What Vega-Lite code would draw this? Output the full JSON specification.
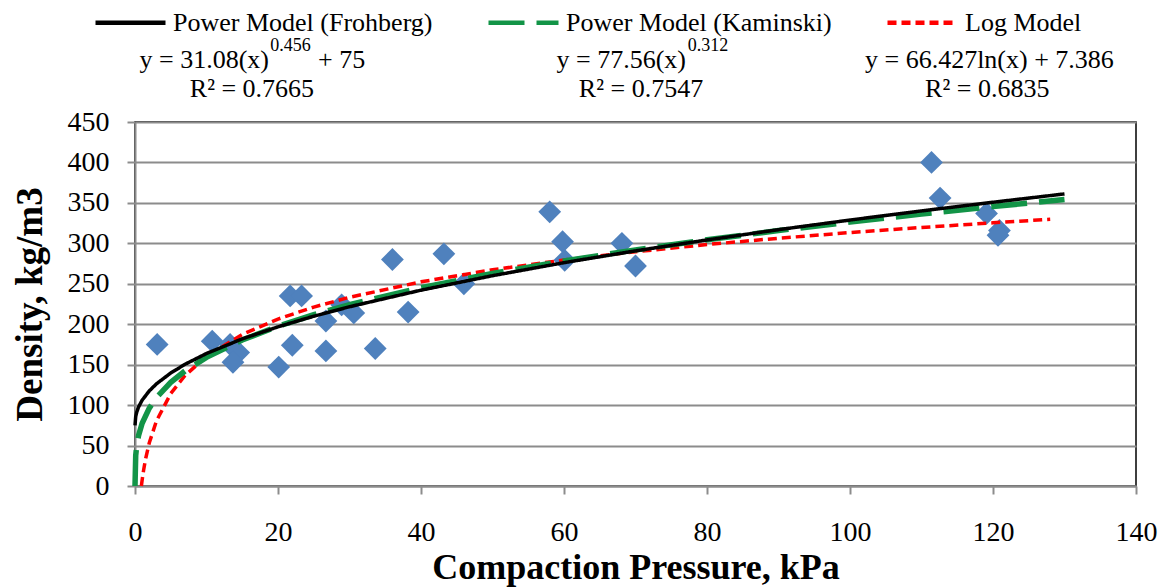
{
  "$schema": "https://vega.github.io/schema/vega-lite/v6.json",
  "autosize": {"type": "none"},
  "width": 1001,
  "height": 364,
  "padding": {"left": 135, "top": 122, "right": 34, "bottom": 101},
  "background": "white",
  "config": {
    "view": {"stroke": "#000000", "strokeWidth": 1.5},
    "font": "Liberation Serif"
  },
  "datasets": {
    "pts": [
      {"x": 3.1, "y": 175}, {"x": 10.8, "y": 179}, {"x": 13.3, "y": 175}, {"x": 14.5, "y": 165},
      {"x": 13.7, "y": 153}, {"x": 20.1, "y": 147}, {"x": 21.7, "y": 235}, {"x": 22.0, "y": 174},
      {"x": 23.3, "y": 235}, {"x": 26.7, "y": 204}, {"x": 26.7, "y": 167}, {"x": 28.9, "y": 224},
      {"x": 30.6, "y": 214}, {"x": 33.6, "y": 170}, {"x": 36.0, "y": 280}, {"x": 38.2, "y": 215},
      {"x": 43.2, "y": 287}, {"x": 46.0, "y": 250}, {"x": 58.0, "y": 339}, {"x": 59.8, "y": 302},
      {"x": 60.1, "y": 279}, {"x": 68.1, "y": 300}, {"x": 70.0, "y": 272}, {"x": 111.4, "y": 400},
      {"x": 112.6, "y": 356}, {"x": 119.1, "y": 337}, {"x": 120.9, "y": 316}, {"x": 120.7, "y": 310}
    ],
    "curves": [
      {"model": "Power Model (Frohberg)", "x": 0, "y": 75},
      {"model": "Power Model (Frohberg)", "x": 0.1, "y": 85.9},
      {"model": "Power Model (Frohberg)", "x": 0.25, "y": 91.5},
      {"model": "Power Model (Frohberg)", "x": 0.5, "y": 97.7},
      {"model": "Power Model (Frohberg)", "x": 1, "y": 106.1},
      {"model": "Power Model (Frohberg)", "x": 2, "y": 117.6},
      {"model": "Power Model (Frohberg)", "x": 3, "y": 126.3},
      {"model": "Power Model (Frohberg)", "x": 5, "y": 139.7},
      {"model": "Power Model (Frohberg)", "x": 7, "y": 150.5},
      {"model": "Power Model (Frohberg)", "x": 10, "y": 163.8},
      {"model": "Power Model (Frohberg)", "x": 15, "y": 181.9},
      {"model": "Power Model (Frohberg)", "x": 20, "y": 196.8},
      {"model": "Power Model (Frohberg)", "x": 25, "y": 209.9},
      {"model": "Power Model (Frohberg)", "x": 30, "y": 221.6},
      {"model": "Power Model (Frohberg)", "x": 40, "y": 242.1},
      {"model": "Power Model (Frohberg)", "x": 50, "y": 260.0},
      {"model": "Power Model (Frohberg)", "x": 60, "y": 276.1},
      {"model": "Power Model (Frohberg)", "x": 70, "y": 290.7},
      {"model": "Power Model (Frohberg)", "x": 80, "y": 304.2},
      {"model": "Power Model (Frohberg)", "x": 90, "y": 316.9},
      {"model": "Power Model (Frohberg)", "x": 100, "y": 328.8},
      {"model": "Power Model (Frohberg)", "x": 110, "y": 340.1},
      {"model": "Power Model (Frohberg)", "x": 120, "y": 350.8},
      {"model": "Power Model (Frohberg)", "x": 130, "y": 361.1},
      {"model": "Power Model (Kaminski)", "x": 0, "y": 0},
      {"model": "Power Model (Kaminski)", "x": 0.1, "y": 37.8},
      {"model": "Power Model (Kaminski)", "x": 0.25, "y": 50.3},
      {"model": "Power Model (Kaminski)", "x": 0.5, "y": 62.5},
      {"model": "Power Model (Kaminski)", "x": 1, "y": 77.6},
      {"model": "Power Model (Kaminski)", "x": 2, "y": 96.3},
      {"model": "Power Model (Kaminski)", "x": 3, "y": 109.3},
      {"model": "Power Model (Kaminski)", "x": 5, "y": 128.1},
      {"model": "Power Model (Kaminski)", "x": 7, "y": 142.3},
      {"model": "Power Model (Kaminski)", "x": 10, "y": 159.1},
      {"model": "Power Model (Kaminski)", "x": 15, "y": 180.5},
      {"model": "Power Model (Kaminski)", "x": 20, "y": 197.5},
      {"model": "Power Model (Kaminski)", "x": 25, "y": 211.7},
      {"model": "Power Model (Kaminski)", "x": 30, "y": 224.1},
      {"model": "Power Model (Kaminski)", "x": 40, "y": 245.2},
      {"model": "Power Model (Kaminski)", "x": 50, "y": 262.8},
      {"model": "Power Model (Kaminski)", "x": 60, "y": 278.2},
      {"model": "Power Model (Kaminski)", "x": 70, "y": 291.9},
      {"model": "Power Model (Kaminski)", "x": 80, "y": 304.4},
      {"model": "Power Model (Kaminski)", "x": 90, "y": 315.8},
      {"model": "Power Model (Kaminski)", "x": 100, "y": 326.3},
      {"model": "Power Model (Kaminski)", "x": 110, "y": 336.2},
      {"model": "Power Model (Kaminski)", "x": 120, "y": 345.4},
      {"model": "Power Model (Kaminski)", "x": 130, "y": 354.2},
      {"model": "Log Model", "x": 0.895, "y": 0},
      {"model": "Log Model", "x": 0.95, "y": 4.0},
      {"model": "Log Model", "x": 1, "y": 7.4},
      {"model": "Log Model", "x": 1.2, "y": 19.5},
      {"model": "Log Model", "x": 1.5, "y": 34.3},
      {"model": "Log Model", "x": 2, "y": 53.4},
      {"model": "Log Model", "x": 3, "y": 80.4},
      {"model": "Log Model", "x": 5, "y": 114.3},
      {"model": "Log Model", "x": 7, "y": 136.6},
      {"model": "Log Model", "x": 10, "y": 160.3},
      {"model": "Log Model", "x": 15, "y": 187.3},
      {"model": "Log Model", "x": 20, "y": 206.4},
      {"model": "Log Model", "x": 25, "y": 221.2},
      {"model": "Log Model", "x": 30, "y": 233.3},
      {"model": "Log Model", "x": 40, "y": 252.4},
      {"model": "Log Model", "x": 50, "y": 267.3},
      {"model": "Log Model", "x": 60, "y": 279.4},
      {"model": "Log Model", "x": 70, "y": 289.6},
      {"model": "Log Model", "x": 80, "y": 298.5},
      {"model": "Log Model", "x": 90, "y": 306.3},
      {"model": "Log Model", "x": 100, "y": 313.3},
      {"model": "Log Model", "x": 110, "y": 319.6},
      {"model": "Log Model", "x": 120, "y": 325.4},
      {"model": "Log Model", "x": 128, "y": 329.7}
    ],
    "eq": [
      {"part": "right", "x": 18.74, "y": 516.7, "text": "y = 31.08(x)"},
      {"part": "sup", "x": 18.9, "y": 537.8, "text": "0.456"},
      {"part": "left", "x": 25.6, "y": 516.7, "text": "+ 75"},
      {"part": "center", "x": 16.36, "y": 481.0, "text": "R² = 0.7665"},
      {"part": "right", "x": 77.06, "y": 516.7, "text": "y = 77.56(x)"},
      {"part": "sup", "x": 77.3, "y": 537.8, "text": "0.312"},
      {"part": "center", "x": 70.77, "y": 481.0, "text": "R² = 0.7547"},
      {"part": "center", "x": 119.5, "y": 516.7, "text": "y = 66.427ln(x) + 7.386"},
      {"part": "center", "x": 119.2, "y": 481.0, "text": "R² = 0.6835"}
    ]
  },
  "encoding": {
    "x": {
      "field": "x", "type": "quantitative",
      "scale": {"domain": [0, 140], "nice": false, "zero": false},
      "axis": {
        "values": [0, 20, 40, 60, 80, 100, 120, 140],
        "title": "Compaction Pressure, kPa",
        "titleFont": "Liberation Serif", "titleFontSize": 36, "titleFontWeight": "bold", "titleColor": "#000000",
        "titlePadding": 4,
        "labelFont": "Liberation Serif", "labelFontSize": 28, "labelColor": "#000000", "labelPadding": 24,
        "grid": false, "tickSize": 8, "tickColor": "#8c8c8c", "tickWidth": 2,
        "domainColor": "#8c8c8c", "domainWidth": 2, "labelFlush": false
      }
    },
    "y": {
      "field": "y", "type": "quantitative",
      "scale": {"domain": [0, 450], "nice": false, "zero": false},
      "axis": {
        "values": [0, 50, 100, 150, 200, 250, 300, 350, 400, 450],
        "title": "Density, kg/m3",
        "titleFont": "Liberation Serif", "titleFontSize": 37, "titleFontWeight": "bold", "titleColor": "#000000",
        "titlePadding": 18,
        "labelFont": "Liberation Serif", "labelFontSize": 28, "labelColor": "#000000", "labelPadding": 18,
        "grid": true, "gridColor": "#8c8c8c", "gridWidth": 2,
        "tickSize": 8, "tickColor": "#8c8c8c", "tickWidth": 2,
        "domainColor": "#8c8c8c", "domainWidth": 2
      }
    }
  },
  "layer": [
    {
      "data": {"name": "pts"},
      "mark": {"type": "point", "shape": "diamond", "filled": true, "size": 520, "color": "#4f81bd", "opacity": 1, "strokeWidth": 0}
    },
    {
      "data": {"name": "curves"},
      "transform": [{"filter": "datum.model === 'Log Model'"}],
      "mark": {"type": "line", "strokeWidth": 3.5},
      "encoding": {
        "color": {"field": "model", "type": "nominal",
          "scale": {"domain": ["Power Model (Frohberg)", "Power Model (Kaminski)", "Log Model"], "range": ["#000000", "#129447", "#ff0000"]},
          "legend": {"orient": "none", "legendX": -42, "legendY": -137, "direction": "horizontal", "columns": 3, "title": null,
            "symbolType": "stroke", "symbolSize": 4900, "symbolStrokeWidth": 4.5,
            "labelFont": "Liberation Serif", "labelFontSize": 26, "labelColor": "#000000", "labelOffset": 5, "labelLimit": 400,
            "columnPadding": 46}},
        "strokeDash": {"field": "model", "type": "nominal",
          "scale": {"domain": ["Power Model (Frohberg)", "Power Model (Kaminski)", "Log Model"], "range": [[1, 0], [36, 12], [9, 5]]}}
      }
    },
    {
      "data": {"name": "curves"},
      "transform": [{"filter": "datum.model === 'Power Model (Kaminski)'"}],
      "mark": {"type": "line", "strokeWidth": 5.5},
      "encoding": {
        "color": {"field": "model", "type": "nominal"},
        "strokeDash": {"field": "model", "type": "nominal"}
      }
    },
    {
      "data": {"name": "curves"},
      "transform": [{"filter": "datum.model === 'Power Model (Frohberg)'"}],
      "mark": {"type": "line", "strokeWidth": 3.5},
      "encoding": {
        "color": {"field": "model", "type": "nominal"},
        "strokeDash": {"field": "model", "type": "nominal"}
      }
    },
    {
      "data": {"name": "eq"},
      "transform": [{"filter": "datum.part === 'right'"}],
      "mark": {"type": "text", "align": "right", "baseline": "alphabetic", "fontSize": 26, "font": "Liberation Serif", "color": "#000000"},
      "encoding": {"text": {"field": "text"}}
    },
    {
      "data": {"name": "eq"},
      "transform": [{"filter": "datum.part === 'left'"}],
      "mark": {"type": "text", "align": "left", "baseline": "alphabetic", "fontSize": 26, "font": "Liberation Serif", "color": "#000000"},
      "encoding": {"text": {"field": "text"}}
    },
    {
      "data": {"name": "eq"},
      "transform": [{"filter": "datum.part === 'sup'"}],
      "mark": {"type": "text", "align": "left", "baseline": "alphabetic", "fontSize": 18, "font": "Liberation Serif", "color": "#000000"},
      "encoding": {"text": {"field": "text"}}
    },
    {
      "data": {"name": "eq"},
      "transform": [{"filter": "datum.part === 'center'"}],
      "mark": {"type": "text", "align": "center", "baseline": "alphabetic", "fontSize": 26, "font": "Liberation Serif", "color": "#000000"},
      "encoding": {"text": {"field": "text"}}
    }
  ]
}
